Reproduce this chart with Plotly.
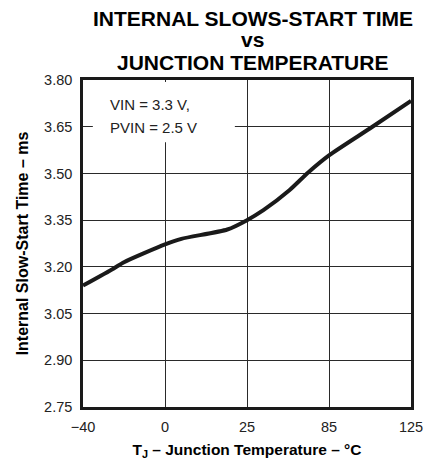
import numpy as np
import plotly.graph_objects as go

# Axis tick labels (evenly spaced on the chart, not linear in temperature)
tick_temps = [-40, 0, 25, 85, 125]
tick_labels = ["\u221240", "0", "25", "85", "125"]
y_ticks = [2.75, 2.90, 3.05, 3.20, 3.35, 3.50, 3.65, 3.80]

# Curve data: junction temperature (°C) and internal slow-start time (ms)
temp_c = [-40, -25, -20, 0, 5, 19, 25, 37, 56, 70, 85, 106, 125]
slow_start_ms = [3.140, 3.195, 3.215, 3.272, 3.290, 3.320, 3.350, 3.382, 3.446, 3.504, 3.558, 3.649, 3.733]

title_lines = ["INTERNAL SLOWS-START TIME", "vs", "JUNCTION TEMPERATURE"]
condition_lines = ["VIN = 3.3 V,", "PVIN = 2.5 V"]

# Map temperatures to the evenly spaced axis positions
tick_pos = list(range(len(tick_temps)))
x_pos = np.interp(temp_c, tick_temps, tick_pos)

fig = go.Figure()
fig.add_trace(go.Scatter(
    x=x_pos, y=slow_start_ms, mode="lines",
    line=dict(color="#1a1a1a", width=4, shape="spline", smoothing=0.6),
    showlegend=False, hoverinfo="skip",
))

font_family = "Liberation Sans, Arial, sans-serif"

annotations = []
for txt, yy in zip(title_lines, [1.187, 1.125, 1.0535]):
    annotations.append(dict(
        text=txt, xref="paper", yref="paper", x=0.518, y=yy,
        xanchor="center", yanchor="middle", showarrow=False,
        font=dict(size=21, color="black", weight="bold", family=font_family)))
for txt, yy in zip(condition_lines, [0.924, 0.856]):
    annotations.append(dict(
        text=txt, xref="paper", yref="paper", x=0.076, y=yy,
        xanchor="left", yanchor="middle", showarrow=False,
        font=dict(size=15, color="#222", family=font_family)))

fig.update_layout(
    width=437, height=456,
    margin=dict(l=75, r=34, t=72, b=57),
    paper_bgcolor="white", plot_bgcolor="white",
    font=dict(family=font_family, color="#222"),
    xaxis=dict(
        range=[0, 4], tickvals=tick_pos, ticktext=tick_labels,
        showgrid=True, gridcolor="#2a2a2a", gridwidth=1.2,
        showline=True, linecolor="#1a1a1a", linewidth=2.5, mirror=True,
        ticks="", zeroline=False, fixedrange=True, ticklabelstandoff=5,
        automargin=False,
        tickfont=dict(size=14.5, color="#222"),
        title=dict(text="T<sub>J</sub> \u2013 Junction Temperature \u2013 \u00b0C",
                   font=dict(size=15.5, color="black", weight="bold"), standoff=10),
    ),
    yaxis=dict(
        range=[2.75, 3.80], tickvals=y_ticks, ticktext=[f"{v:.2f}" for v in y_ticks],
        showgrid=True, gridcolor="#2a2a2a", gridwidth=1.2,
        showline=True, linecolor="#1a1a1a", linewidth=2.5, mirror=True,
        ticks="", zeroline=False, fixedrange=True, ticklabelstandoff=5,
        automargin=False,
        tickfont=dict(size=14.5, color="#222"),
        title=dict(text="Internal Slow-Start Time \u2013 ms",
                   font=dict(size=16, color="black", weight="bold"), standoff=12),
    ),
    shapes=[dict(type="rect", xref="paper", yref="paper",
                 x0=0.03, x1=0.463, y0=0.81, y1=0.994,
                 fillcolor="white", line=dict(width=0), layer="above")],
    annotations=annotations,
)

fig.write_html("out.html")
